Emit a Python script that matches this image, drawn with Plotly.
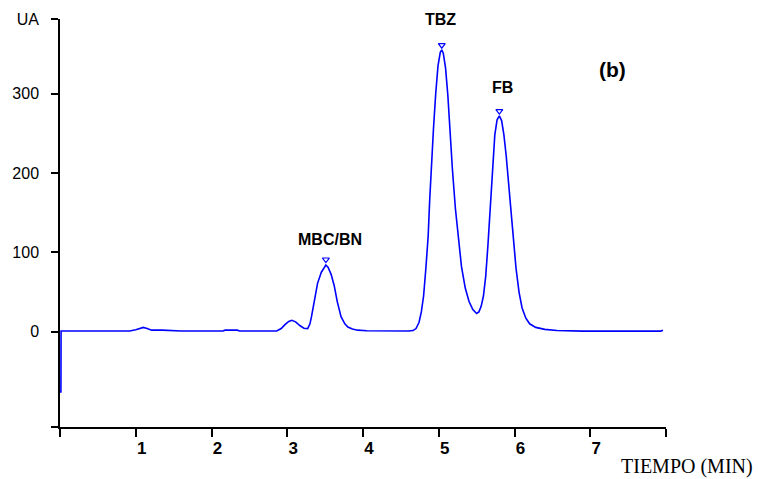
import plotly.graph_objects as go

# Chromatogram trace (time in min, signal in UA)
time_min = [0.0, 0.012, 0.014, 0.5, 0.92, 1.0, 1.06, 1.10, 1.15, 1.21, 1.35, 1.5, 1.6,
            2.15, 2.18, 2.34, 2.37, 2.86, 2.92, 2.97, 3.02, 3.06, 3.11, 3.17, 3.22, 3.27,
            3.30, 3.32, 3.36, 3.40, 3.45, 3.49, 3.51, 3.54, 3.58, 3.62, 3.66, 3.71, 3.76,
            3.80, 3.86, 3.93, 4.05, 4.6,
            4.63, 4.66, 4.70, 4.74, 4.77, 4.80, 4.83, 4.86, 4.88, 4.90, 4.93, 4.96, 4.99,
            5.02, 5.04, 5.06, 5.09, 5.12, 5.15, 5.18, 5.22, 5.26, 5.30, 5.35, 5.40,
            5.45, 5.50, 5.53, 5.56, 5.59, 5.62, 5.65, 5.68, 5.71, 5.74, 5.77, 5.80, 5.83,
            5.86, 5.89, 5.92, 5.95, 5.98, 6.02, 6.06, 6.10, 6.15, 6.20, 6.28, 6.40, 6.56,
            6.9, 7.5, 7.93, 7.96]
signal_ua = [-76, -76, 1, 1, 1, 2.5, 4.5, 5.5, 4, 2, 2, 1.5, 1,
             1, 2, 2, 1, 1, 4, 9, 13, 14.5, 12.5, 7.5, 4.5, 4,
             10, 19, 40, 61, 75, 82, 84, 81, 72, 58, 38, 19, 10,
             6, 3.5, 2, 1.2, 1,
             1, 1.5, 4, 12, 25, 45, 80, 120, 165, 205, 255, 300, 335,
             352, 355, 351, 332, 298, 250, 205, 155, 115, 82, 55, 38,
             28, 23, 25, 32, 45, 70, 110, 160, 210, 248, 267, 272, 266,
             248, 222, 190, 155, 120, 80, 50, 30, 17, 10, 5.5, 3, 1.5,
             0.8, 0.8, 0.8, 2]

# Peak apex marks and their names
peak_time = [3.51, 5.04, 5.80]
peak_mark = [91, 361, 278]
peak_names = ["MBC/BN", "TBZ", "FB"]
peak_label_time = [3.56, 5.02, 5.84]
peak_label_ua = [116, 393.5, 308]

# Axis ticks
x_tickvals = [0, 1, 2, 3, 4, 5, 6, 7, 8]
x_ticktext = ["", "1", "2", "3", "4", "5", "6", "7", ""]
y_tickvals = [-120, 0, 100, 200, 300, 394]
y_ticktext = ["", "0", "100", "200", "300", "UA"]

BLUE = "#0000ff"

fig = go.Figure()
fig.add_trace(go.Scatter(x=time_min, y=signal_ua, mode="lines",
                         line=dict(color=BLUE, width=1.6), cliponaxis=False,
                         hoverinfo="skip"))
fig.add_trace(go.Scatter(x=peak_time, y=peak_mark, mode="markers",
                         marker=dict(symbol="triangle-down-open", size=6,
                                     color=BLUE, line=dict(width=1.2, color=BLUE)),
                         cliponaxis=False, hoverinfo="skip"))

for name, tx, ty in zip(peak_names, peak_label_time, peak_label_ua):
    fig.add_annotation(x=tx, y=ty, text=name, showarrow=False,
                       font=dict(family="Liberation Sans, Arial", size=16,
                                 color="black", weight="bold"),
                       xanchor="center", yanchor="middle")

fig.add_annotation(x=7.3, y=330, text="(b)", showarrow=False,
                   font=dict(family="Liberation Sans, Arial", size=21,
                             color="black", weight="bold"),
                   xanchor="center", yanchor="middle")

fig.add_annotation(x=1.035, y=-0.096, xref="paper", yref="paper",
                   text="TIEMPO (MIN)", showarrow=False,
                   font=dict(family="Liberation Serif, Times New Roman", size=20,
                             color="black"),
                   xanchor="center", yanchor="middle")

fig.update_layout(
    width=758, height=479,
    margin=dict(l=60, r=92, t=19, b=52),
    paper_bgcolor="white", plot_bgcolor="white",
    showlegend=False,
    xaxis=dict(range=[0, 8], tickvals=x_tickvals, ticktext=x_ticktext,
               showgrid=False, zeroline=False, showline=True,
               linecolor="black", linewidth=1.5,
               ticks="outside", ticklen=8, tickwidth=1.5, tickcolor="black",
               ticklabelshift=6, ticklabelstandoff=-3,
               tickfont=dict(family="Liberation Sans Narrow, Arial Narrow, Liberation Sans",
                             size=17, color="black", weight="bold")),
    yaxis=dict(range=[-120, 394], tickvals=y_tickvals, ticktext=y_ticktext,
               showgrid=False, zeroline=False, showline=True,
               linecolor="black", linewidth=1.5,
               ticks="outside", ticklen=7, tickwidth=1.5, tickcolor="black",
               ticklabelstandoff=9,
               tickfont=dict(family="Liberation Sans, Arial", size=16, color="black")),
)

fig.write_html("out.html")
